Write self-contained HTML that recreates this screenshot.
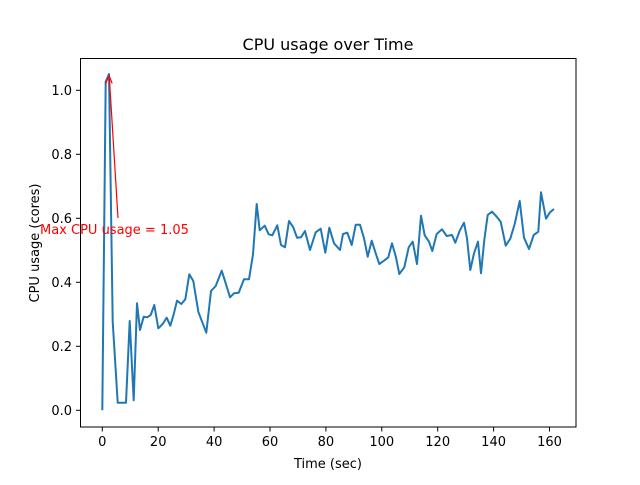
<!DOCTYPE html>
<html><head><meta charset="utf-8"><style>html,body{margin:0;padding:0;background:#fff}</style></head>
<body>
<svg width="640" height="480" xmlns="http://www.w3.org/2000/svg" font-family="DejaVu Sans, Liberation Sans, sans-serif">
<rect width="640" height="480" fill="#fff"/>
<polyline fill="none" stroke="#1f77b4" stroke-width="2" stroke-linejoin="round" points="102.3,410.3 105.7,81.7 109,74 112.7,321.7 117.7,402.7 122.3,402.7 126,402.7 129.7,321 133.7,400.3 137,303.3 140,330 143.7,316.7 147.3,317.3 150.7,315 154.3,305 158.3,328.3 162.7,324 166.7,317.7 170.3,325.7 173.7,314.3 177,300.7 181.3,304 185.3,299.3 189.3,274.3 193.3,281 198.3,311.7 202.3,322.3 206.3,332.7 211,291 215.7,286 221.7,270.7 225.7,283.3 230,297.3 234,293.3 238.7,292.7 244,279.3 249,279.3 253,254.3 256.7,204 259.7,230.3 264.7,225.7 268.7,234.3 272.3,235.3 277.3,225.3 281,245 285,247.3 289,221 293.3,227.3 297,237.7 301,237.3 305,231 310,250 315.7,232.3 320.7,228.7 325.3,252.7 329.3,227.7 334,243.3 340,250 343,234 347.3,232.7 351.7,245 355.7,224.7 360,224.7 364,238.3 367.7,256.7 371.7,240.7 375.7,253.3 379.3,264 384,260.7 388.3,257.3 392,243.3 396,257.3 399.3,274 404.3,267.3 408.7,247.3 412.7,241.7 417,264 421,215.7 424.7,235.3 429,241.7 432.3,251 436.7,234 442,229.3 446.7,236 452,235 455.3,242.7 459.7,230.7 464,222.7 467,238.3 470.3,270 474,253.3 478,241.7 481,273.3 484.3,240 487.7,215 492,211.7 496.7,216.7 500.7,221.7 505.7,245.7 510.3,238.7 514.7,224 519.7,201 524,237.7 529,249 533.7,235 538.3,231.7 541,192.3 546,218.7 550,212.3 554,209"/>
<line x1="118" y1="218" x2="109.3" y2="77" stroke="red" stroke-width="1.2"/>
<polyline points="105.3,84 109.2,76 112.2,83.5" fill="none" stroke="red" stroke-width="1.2"/>
<text x="40" y="234" font-size="13" fill="red">Max CPU usage = 1.05</text>
<rect x="80.5" y="58.5" width="495.5" height="368.5" fill="none" stroke="#000" stroke-width="1"/>
<g stroke="#000" stroke-width="1">
<line x1="76" x2="80.5" y1="410.3" y2="410.3"/><line x1="76" x2="80.5" y1="346.3" y2="346.3"/><line x1="76" x2="80.5" y1="282.3" y2="282.3"/><line x1="76" x2="80.5" y1="218.3" y2="218.3"/><line x1="76" x2="80.5" y1="154.3" y2="154.3"/><line x1="76" x2="80.5" y1="90.3" y2="90.3"/>
<line y1="427" y2="431.5" x1="102.3" x2="102.3"/><line y1="427" y2="431.5" x1="158.2" x2="158.2"/><line y1="427" y2="431.5" x1="214.1" x2="214.1"/><line y1="427" y2="431.5" x1="270" x2="270"/><line y1="427" y2="431.5" x1="325.9" x2="325.9"/><line y1="427" y2="431.5" x1="381.8" x2="381.8"/><line y1="427" y2="431.5" x1="437.7" x2="437.7"/><line y1="427" y2="431.5" x1="493.6" x2="493.6"/><line y1="427" y2="431.5" x1="549.5" x2="549.5"/>
</g>
<g font-size="13" text-anchor="end" fill="#000">
<text x="72" y="415">0.0</text><text x="72" y="351">0.2</text><text x="72" y="287">0.4</text><text x="72" y="223">0.6</text><text x="72" y="159">0.8</text><text x="72" y="95">1.0</text>
</g>
<g font-size="13" text-anchor="middle" fill="#000">
<text x="102.3" y="446">0</text><text x="158.2" y="446">20</text><text x="214.1" y="446">40</text><text x="270" y="446">60</text><text x="325.9" y="446">80</text><text x="381.8" y="446">100</text><text x="437.7" y="446">120</text><text x="493.6" y="446">140</text><text x="549.5" y="446">160</text>
<text x="328" y="468">Time (sec)</text>
<text x="328" y="50" font-size="16">CPU usage over Time</text>
<text transform="translate(39,243) rotate(-90)">CPU usage (cores)</text>
</g>
</svg>
</body></html>
